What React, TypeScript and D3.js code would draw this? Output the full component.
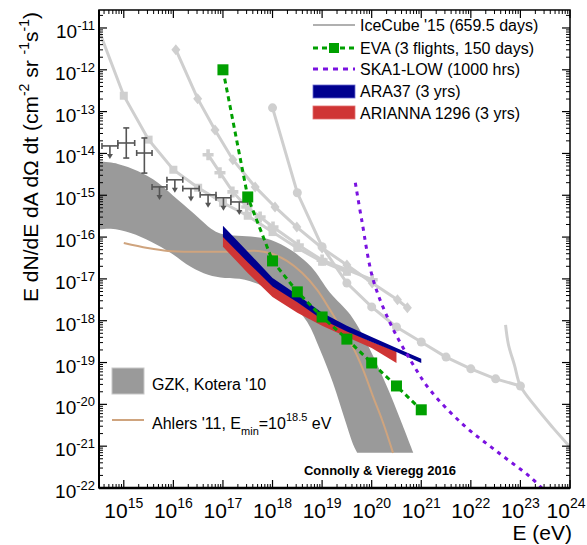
import React from 'react';
import * as d3 from 'd3';

const W = 587;
const H = 545;

// axis exponents
const xTickExps = [15, 16, 17, 18, 19, 20, 21, 22, 23, 24];
const yTickExps = [-22, -21, -20, -19, -18, -17, -16, -15, -14, -13, -12, -11];

// all values as [log10 E(eV), log10 flux]
const gzkUpper = [
  [14.4, -14.18], [14.88, -14.25], [15.28, -14.42], [15.69, -14.7], [16.09, -15.11], [16.49, -15.52],
  [16.76, -15.8], [16.96, -15.92], [17.3, -15.97], [17.65, -16.0], [17.97, -16.07], [18.37, -16.31],
  [18.78, -16.71], [19.16, -17.33], [19.57, -17.86], [19.97, -18.7], [20.31, -19.58], [20.58, -20.37],
  [20.84, -21.16],
];
const gzkLower = [
  [14.4, -15.83], [14.74, -15.8], [15.14, -15.9], [15.55, -16.11], [15.95, -16.38], [16.35, -16.71],
  [16.7, -16.9], [17.04, -16.98], [17.44, -17.02], [17.95, -17.26], [18.35, -17.57], [18.7, -18.03],
  [18.96, -18.7], [19.22, -19.49], [19.46, -20.37], [19.63, -20.97], [19.71, -21.16],
];
const ahlers = [
  [15.0, -16.14], [15.48, -16.26], [15.89, -16.33], [16.49, -16.35], [17.1, -16.35], [17.71, -16.33],
  [17.99, -16.4], [18.29, -16.57], [18.6, -16.86], [18.9, -17.26], [19.16, -17.74], [19.4, -18.22],
  [19.63, -18.65], [19.83, -19.18], [20.03, -19.82], [20.23, -20.44], [20.43, -21.16],
];
const eva = [
  [17.0, -12.0], [17.5, -15.04], [18.0, -16.57], [18.5, -17.31], [19.0, -17.91], [19.5, -18.44],
  [20.0, -19.01], [20.5, -19.56], [21.0, -20.13],
];
const ska = [
  [19.67, -14.7], [19.8, -15.6], [20.03, -17.02], [20.37, -18.05], [20.78, -18.94], [21.18, -19.66],
  [21.85, -20.49], [22.54, -21.14], [23.2, -21.74], [23.6, -22.2],
];
const ara37Upper = [
  [17.0, -15.73], [17.5, -16.35], [18.0, -16.98], [18.5, -17.38], [19.0, -17.81], [19.5, -18.12],
  [20.0, -18.39], [20.5, -18.65], [21.0, -18.91],
];
const ara37Lower = [
  [17.0, -16.0], [17.5, -16.6], [18.0, -17.18], [18.5, -17.56], [19.0, -17.97], [19.5, -18.26],
  [20.0, -18.51], [20.5, -18.75], [21.0, -19.01],
];
const ariannaUpper = [
  [17.0, -15.95], [17.5, -16.57], [18.0, -17.15], [18.5, -17.55], [19.0, -17.95], [19.5, -18.24],
  [20.0, -18.5], [20.5, -18.73],
];
const ariannaLower = [
  [17.0, -16.23], [17.5, -16.86], [18.0, -17.43], [18.5, -17.81], [19.0, -18.12], [19.5, -18.39],
  [20.0, -18.65], [20.5, -19.01],
];
// IceCube '15 and other light-grey limit curves
const greySquares = [
  [14.4, -10.75], [15.0, -12.62], [15.5, -13.67], [16.0, -14.39], [16.5, -14.82], [17.0, -15.18],
  [17.5, -15.49], [18.0, -15.88], [18.5, -16.26], [19.0, -16.59], [19.5, -16.83],
];
const greyDiamonds = [
  [16.05, -11.52], [16.49, -12.69], [16.84, -13.44], [17.2, -14.15], [17.65, -14.8], [18.05, -15.28],
  [18.49, -15.76], [19.0, -16.26], [19.5, -16.67], [20.01, -17.1], [20.52, -17.5], [20.72, -17.69],
];
const greyCrosses = [
  [16.7, -14.03], [16.94, -14.46], [17.2, -14.92], [17.48, -15.28], [17.75, -15.52], [18.01, -15.76],
  [18.52, -16.19], [19.0, -16.55], [19.5, -16.78], [20.01, -17.02],
];
const greyCircles = [
  [18.0, -12.91], [18.5, -14.94], [19.0, -16.23], [19.5, -17.1], [20.0, -17.67], [20.5, -18.15],
  [21.0, -18.51], [21.5, -18.87], [22.0, -19.15], [22.5, -19.39], [23.0, -19.56],
];
const greyHighE = [
  [22.7, -18.1], [22.76, -18.58], [22.88, -19.06], [23.0, -19.56], [23.3, -20.05], [23.65, -20.55],
  [24.0, -21.02],
];
// IceCube measured points: [E lo, E hi, flux, flux lo, flux hi]
const iceMeasured = [
  [14.88, 15.22, -13.75, -14.11, -13.39],
  [15.26, 15.57, -13.99, -14.47, -13.63],
];
// IceCube upper limits: [E lo, E hi, flux]
const iceLimits = [
  [14.56, 14.88, -13.82],
  [15.57, 15.87, -14.8],
  [15.87, 16.19, -14.63],
  [16.19, 16.52, -14.84],
  [16.54, 16.86, -14.99],
  [16.86, 17.16, -15.06],
  [17.16, 17.5, -15.16],
];

const FONT = '"Liberation Sans", Arial, Helvetica, sans-serif';

const xs = d3.scaleLog().domain([10 ** 14.5, 1e24]).range([99, 570]);
const ys = d3.scaleLog().domain([1e-22, 10 ** -10.57]).range([488, 10]);
const X = (lx: number) => xs(10 ** lx);
const Y = (ly: number) => ys(10 ** ly);

const lin = d3.line<number[]>().x(d => X(d[0])).y(d => Y(d[1]));
const smooth = d3.line<number[]>().x(d => X(d[0])).y(d => Y(d[1])).curve(d3.curveCatmullRom.alpha(0.5));

function band(upper: number[][], lower: number[][], gen: any) {
  const a = gen(upper) as string;
  const b = (gen([...lower].reverse()) as string).replace(/^M/, 'L');
  return a + b + 'Z';
}

const GREY = '#cfcfcf';

function Marker({ type, cx, cy }: { type: string; cx: number; cy: number }) {
  if (type === 'square') return <rect x={cx - 4} y={cy - 4} width={8} height={8} fill={GREY} />;
  if (type === 'circle') return <circle cx={cx} cy={cy} r={4.5} fill={GREY} />;
  if (type === 'diamond')
    return <path d={`M${cx},${cy - 5.5}L${cx + 4.5},${cy}L${cx},${cy + 5.5}L${cx - 4.5},${cy}Z`} fill={GREY} />;
  return (
    <path
      d={`M${cx - 1.8},${cy - 5.5}h3.6v3.7h3.7v3.6h-3.7v3.7h-3.6v-3.7h-3.7v-3.6h3.7Z`}
      fill={GREY}
    />
  );
}

export default function App() {
  const minorX: number[] = [];
  for (let d = 14; d <= 23; d++) for (let k = 2; k <= 9; k++) {
    const v = k * 10 ** d;
    if (v > 10 ** 14.5 && v < 1e24) minorX.push(v);
  }
  const minorY: number[] = [];
  for (let d = -22; d <= -11; d++) for (let k = 2; k <= 9; k++) {
    const v = k * 10 ** d;
    if (v > 1e-22 && v < 10 ** -10.57) minorY.push(v);
  }
  const L = 99, R = 570, T = 10, B = 488;

  const greySets: [number[][], string][] = [
    [greySquares, 'square'],
    [greyDiamonds, 'diamond'],
    [greyCrosses, 'cross'],
    [greyCircles, 'circle'],
  ];

  return (
    <svg width={W} height={H} style={{ position: 'absolute', left: 0, top: 0, background: '#fff' }} fontFamily={FONT}>
      <defs>
        <clipPath id="plot">
          <rect x={L} y={T} width={R - L} height={B - T} />
        </clipPath>
      </defs>
      <rect x={0} y={0} width={W} height={H} fill="#fff" />
      <g clipPath="url(#plot)">
        {/* GZK band */}
        <path d={band(gzkUpper, gzkLower, smooth)} fill="#9a9a9a" />
        {/* Ahlers */}
        <path d={smooth(ahlers) as string} fill="none" stroke="#cfa47e" strokeWidth={2} />
        {/* grey limit curves */}
        {greySets.map(([pts, t], i) => (
          <g key={i}>
            <path d={lin(pts) as string} fill="none" stroke={GREY} strokeWidth={3} />
            {pts.map((p, j) => (
              <Marker key={j} type={t} cx={X(p[0])} cy={Y(p[1])} />
            ))}
          </g>
        ))}
        <path d={smooth(greyHighE) as string} fill="none" stroke={GREY} strokeWidth={3} />
        {/* IceCube data */}
        {iceMeasured.map((m, i) => {
          const x1 = X(m[0]), x2 = X(m[1]), xc = (x1 + x2) / 2, yc = Y(m[2]);
          const ylo = Y(m[3]), yhi = Y(m[4]);
          return (
            <g key={i} stroke="#555" strokeWidth={1.6} fill="none">
              <line x1={x1} x2={x2} y1={yc} y2={yc} />
              <line x1={x1} x2={x1} y1={yc - 3} y2={yc + 3} />
              <line x1={x2} x2={x2} y1={yc - 3} y2={yc + 3} />
              <line x1={xc} x2={xc} y1={yhi} y2={ylo} />
              <line x1={xc - 3} x2={xc + 3} y1={yhi} y2={yhi} />
              <line x1={xc - 3} x2={xc + 3} y1={ylo} y2={ylo} />
            </g>
          );
        })}
        {iceLimits.map((m, i) => {
          const x1 = X(m[0]), x2 = X(m[1]), xc = (x1 + x2) / 2, yc = Y(m[2]);
          return (
            <g key={i} stroke="#555" strokeWidth={1.6} fill="none">
              <line x1={x1} x2={x2} y1={yc} y2={yc} />
              <line x1={x1} x2={x1} y1={yc - 3} y2={yc + 3} />
              <line x1={x2} x2={x2} y1={yc - 3} y2={yc + 3} />
              <line x1={xc} x2={xc} y1={yc} y2={yc + 9} />
              <path d={`M${xc - 3},${yc + 8}L${xc + 3},${yc + 8}L${xc},${yc + 13}Z`} fill="#555" stroke="none" />
            </g>
          );
        })}
        {/* ARIANNA + ARA37 */}
        <path d={band(ariannaUpper, ariannaLower, lin)} fill="#cf3535" />
        <path d={band(ara37Upper, ara37Lower, lin)} fill="#00008f" />
        {/* EVA */}
        <path d={lin(eva) as string} fill="none" stroke="#00a000" strokeWidth={3} strokeDasharray="5,4" />
        {eva.map((p, i) => (
          <rect key={i} x={X(p[0]) - 5.5} y={Y(p[1]) - 5.5} width={11} height={11} fill="#00a000" />
        ))}
        {/* SKA */}
        <path d={smooth(ska) as string} fill="none" stroke="#7a12e0" strokeWidth={3} strokeDasharray="4,5" />
      </g>

      {/* frame */}
      <g stroke="#000" fill="none">
        <rect x={L} y={T} width={R - L} height={B - T} strokeWidth={1.5} />
        <line x1={L} x2={R} y1={B} y2={B} strokeWidth={2.5} />
        <line x1={L} x2={L} y1={T} y2={B} strokeWidth={2} />
        {xTickExps.map(e => (
          <g key={e} strokeWidth={1.2}>
            <line x1={xs(10 ** e)} x2={xs(10 ** e)} y1={B} y2={B - 8} />
            <line x1={xs(10 ** e)} x2={xs(10 ** e)} y1={T} y2={T + 8} />
          </g>
        ))}
        {minorX.map((v, i) => (
          <g key={i} strokeWidth={1}>
            <line x1={xs(v)} x2={xs(v)} y1={B} y2={B - 4} />
            <line x1={xs(v)} x2={xs(v)} y1={T} y2={T + 4} />
          </g>
        ))}
        {yTickExps.map(e => (
          <g key={e} strokeWidth={1.2}>
            <line x1={L} x2={L + 8} y1={ys(10 ** e)} y2={ys(10 ** e)} />
            <line x1={R} x2={R - 8} y1={ys(10 ** e)} y2={ys(10 ** e)} />
          </g>
        ))}
        {minorY.map((v, i) => (
          <g key={i} strokeWidth={1}>
            <line x1={L} x2={L + 4} y1={ys(v)} y2={ys(v)} />
            <line x1={R} x2={R - 4} y1={ys(v)} y2={ys(v)} />
          </g>
        ))}
      </g>

      {/* tick labels */}
      {xTickExps.map(e => (
        <text key={e} x={Math.min(xs(10 ** e), 566)} y={518} fontSize={21} textAnchor="middle" fill="#000">
          10<tspan fontSize={14} dy={-10}>{e}</tspan>
        </text>
      ))}
      {yTickExps.map(e => (
        <text key={e} x={95} y={ys(10 ** e) + 10} fontSize={19} textAnchor="end" fill="#000">
          10<tspan fontSize={13} dy={-8}>{e}</tspan>
        </text>
      ))}
      <text x={572} y={540} fontSize={21} textAnchor="end">E (eV)</text>
      <text transform="translate(38,157) rotate(-90)" fontSize={21} textAnchor="middle">
        E dN/dE dA dΩ dt (cm<tspan fontSize={14} dy={-9}>-2</tspan>
        <tspan dy={9}> sr </tspan><tspan fontSize={14} dy={-9}>-1</tspan>
        <tspan dy={9}>s</tspan><tspan fontSize={14} dy={-9}>-1</tspan><tspan dy={9}>)</tspan>
      </text>

      {/* legend top-right */}
      <g fontSize={16}>
        <line x1={313} x2={355} y1={25} y2={25} stroke="#b0b0b0" strokeWidth={2} />
        <text x={360} y={31}>IceCube '15 (659.5 days)</text>
        <line x1={313} x2={355} y1={48} y2={48} stroke="#00a000" strokeWidth={3} strokeDasharray="5,4" />
        <rect x={329} y={43} width={10} height={10} fill="#00a000" />
        <text x={360} y={53.5}>EVA (3 flights, 150 days)</text>
        <line x1={313} x2={355} y1={69} y2={69} stroke="#7a12e0" strokeWidth={3} strokeDasharray="5,5" />
        <text x={360} y={74.5}>SKA1-LOW (1000 hrs)</text>
        <rect x={313} y={85} width={42} height={13} fill="#00008f" stroke="#6a6ad0" strokeWidth={0.8} />
        <text x={360} y={96.5}>ARA37 (3 yrs)</text>
        <rect x={313} y={106} width={42} height={13} fill="#cf3535" stroke="#e07070" strokeWidth={0.8} />
        <text x={360} y={118.5}>ARIANNA 1296 (3 yrs)</text>
      </g>

      {/* legend bottom-left */}
      <g fontSize={16}>
        <rect x={112} y={368} width={32} height={26} fill="#9a9a9a" stroke="#c8c8c8" strokeWidth={1} />
        <text x={152} y={390}>GZK, Kotera '10</text>
        <line x1={112} x2={144} y1={420} y2={420} stroke="#cfa47e" strokeWidth={2} />
        <text x={152} y={429}>
          Ahlers '11, E<tspan fontSize={11} dy={6}>min</tspan>
          <tspan dy={-6}>=10</tspan><tspan fontSize={11} dy={-8}>18.5</tspan>
          <tspan dy={8}> eV</tspan>
        </text>
      </g>
      <text x={380} y={475} fontSize={13} fontWeight="bold" textAnchor="middle">Connolly &amp; Vieregg 2016</text>
    </svg>
  );
}
